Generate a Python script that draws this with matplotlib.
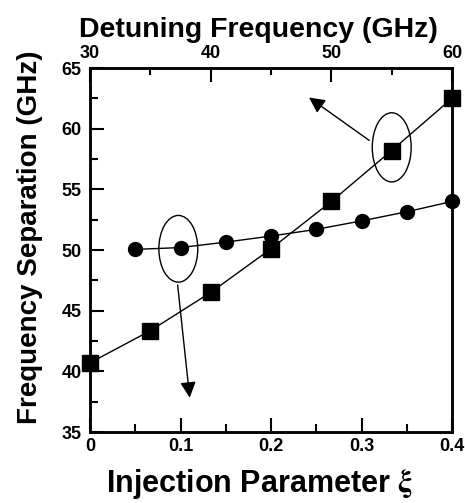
import matplotlib
matplotlib.use("Agg")
import matplotlib.pyplot as plt
from matplotlib.patches import Ellipse
from matplotlib.ticker import MultipleLocator

# === DATA ===
xi = [0.05, 0.10, 0.15, 0.20, 0.25, 0.30, 0.35, 0.40]
sep_vs_xi = [50.05, 50.2, 50.65, 51.15, 51.7, 52.4, 53.15, 54.0]

detuning = [30, 35, 40, 45, 50, 55, 60]
sep_vs_detuning = [40.7, 43.35, 46.5, 50.1, 54.0, 58.2, 62.5]

plt.rcParams['font.family'] = ['Liberation Sans', 'DejaVu Sans']
plt.rcParams['font.weight'] = 'bold'
plt.rcParams['mathtext.fontset'] = 'stix'

fig = plt.figure(figsize=(4.65, 5.03), dpi=100)
ax = fig.add_axes([90 / 465, 71 / 503, 362 / 465, 364 / 503])
ax2 = ax.twiny()

# circles: separation vs injection parameter (bottom axis)
ax.plot(xi, sep_vs_xi, color='black', lw=1.0, marker='o', markersize=10, zorder=3, clip_on=False)
# squares: separation vs detuning frequency (top axis)
ax2.plot(detuning, sep_vs_detuning, color='black', lw=1.0, marker='s', markersize=11.5, zorder=3, clip_on=False)

ax.set_xlim(0, 0.4)
ax.set_ylim(35, 65)
ax2.set_xlim(30, 60)

ax.xaxis.set_minor_locator(MultipleLocator(0.05))
ax.yaxis.set_major_locator(MultipleLocator(5))
ax.yaxis.set_minor_locator(MultipleLocator(2.5))
ax2.xaxis.set_major_locator(MultipleLocator(10))
ax2.xaxis.set_minor_locator(MultipleLocator(5))

ax.set_xticks([0, 0.1, 0.2, 0.3, 0.4])
ax.set_xticklabels(['0', '0.1', '0.2', '0.3', '0.4'])

for a in (ax, ax2):
    for s in a.spines.values():
        s.set_linewidth(1.8)
ax.tick_params(which='both', direction='in', top=False, right=False, width=1.5, labelsize=13, pad=6)
ax.tick_params(axis='x', pad=4.5)
ax.tick_params(which='major', length=10)
ax.tick_params(which='minor', length=6)
ax2.tick_params(which='both', direction='in', width=1.5, labelsize=13, pad=4)
ax2.tick_params(which='major', length=10)
ax2.tick_params(which='minor', length=5)

for lbl in ax.get_xticklabels() + ax.get_yticklabels() + ax2.get_xticklabels():
    lbl.set_fontweight('bold')

ax.set_xlabel(r'Injection Parameter $\mathrm{\xi}$', fontsize=22, fontweight='bold')
ax.xaxis.set_label_coords(0.467, -0.095)
ax.set_ylabel('Frequency Separation (GHz)', fontsize=20, fontweight='bold')
ax.yaxis.set_label_coords(-0.13, 0.536)
ax2.set_xlabel('Detuning Frequency (GHz)', fontsize=20.5, fontweight='bold')
ax2.xaxis.set_label_coords(0.465, 1.085)

# ellipses marking each curve, with arrows pointing to their axes
ax.add_patch(Ellipse((0.0976, 50.1), 0.043, 5.5, fill=False, lw=1.0, color='black', zorder=4))
ax.add_patch(Ellipse((0.3334, 58.46), 0.043, 5.7, fill=False, lw=1.0, color='black', zorder=4))
arrow = dict(arrowstyle='-|>,head_length=0.5,head_width=0.25', color='black', lw=1.0, mutation_scale=19)
ax.annotate('', xy=(0.1105, 37.6), xytext=(0.0965, 47.35), arrowprops=arrow)
ax.annotate('', xy=(0.2395, 62.7), xytext=(0.311, 58.9), arrowprops=arrow)

fig.savefig('out.png', dpi=100)
